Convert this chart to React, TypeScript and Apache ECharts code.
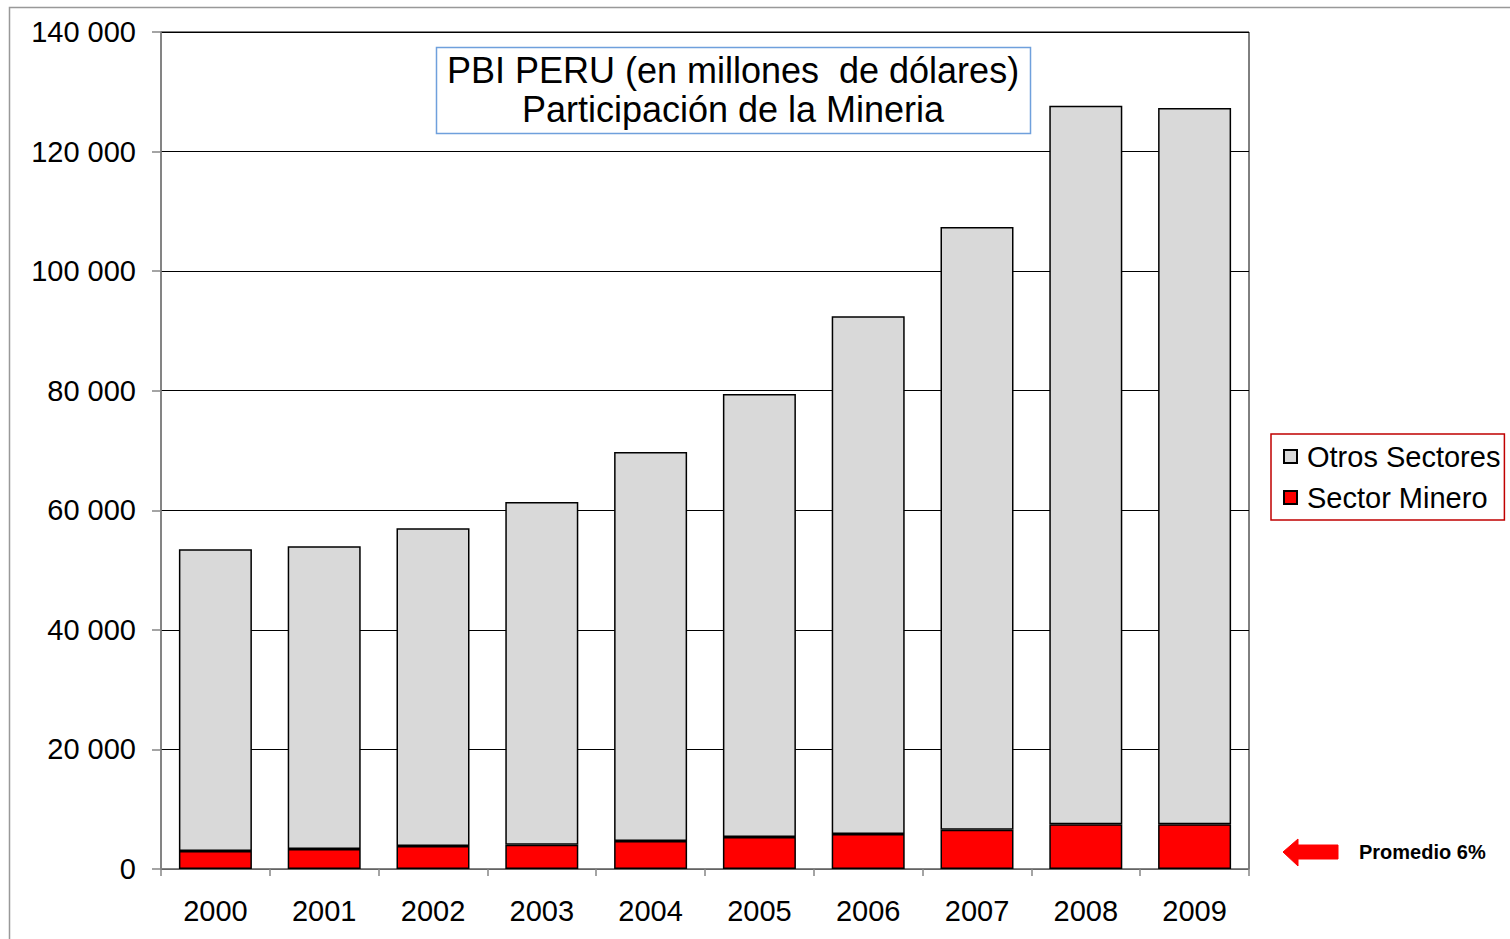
import React, { useEffect, useRef } from "react";
import * as echarts from "echarts";

const years = ["2000", "2001", "2002", "2003", "2004", "2005", "2006", "2007", "2008", "2009"];
const sectorMinero = [3000, 3350, 3850, 4050, 4700, 5350, 5850, 6550, 7500, 7500];
const otrosSectores = [50500, 50650, 53150, 57350, 65050, 74100, 86600, 100850, 120150, 119800];
const yTicks = { min: 0, max: 140000, interval: 20000 };
const FONT = "'Liberation Sans', Arial, sans-serif";

function fmt(v: number): string {
  return String(v).replace(/\B(?=(\d{3})+(?!\d))/g, " ");
}

export default function App() {
  const ref = useRef<HTMLDivElement>(null);
  useEffect(() => {
    document.body.style.margin = "0";
    if (!ref.current) return;
    const chart = echarts.init(ref.current, null, { renderer: "svg" });
    chart.setOption({
      animation: false,
      backgroundColor: "#ffffff",
      textStyle: { fontFamily: FONT },
      grid: {
        left: 161,
        right: 261,
        top: 32,
        bottom: 70,
        show: true,
        borderColor: "#000",
        borderWidth: 1,
      },
      legend: {
        data: ["Otros Sectores", "Sector Minero"],
        orient: "vertical",
        left: 1271,
        top: 434,
        padding: [8, 4, 8, 12],
        itemGap: 12,
        itemWidth: 13,
        itemHeight: 13,
        borderColor: "#c00000",
        borderWidth: 1.5,
        icon: "rect",
        textStyle: { fontSize: 29, color: "#000", fontFamily: FONT, padding: [0, 0, 0, 5] },
      },
      xAxis: {
        type: "category",
        data: years,
        axisLine: { lineStyle: { color: "#868686", width: 1.5 } },
        axisTick: { show: true, length: 7, lineStyle: { color: "#868686", width: 1.5 } },
        axisLabel: { fontSize: 29, color: "#000", margin: 27, fontFamily: FONT },
      },
      yAxis: {
        type: "value",
        min: yTicks.min,
        max: yTicks.max,
        interval: yTicks.interval,
        axisLine: { show: true, lineStyle: { color: "#868686", width: 1.5 } },
        axisTick: { show: true, length: 9, lineStyle: { color: "#868686", width: 1.5 } },
        axisLabel: { fontSize: 29, color: "#000", margin: 25, formatter: (v: number) => fmt(v), fontFamily: FONT },
        splitLine: { show: true, lineStyle: { color: "#000", width: 1 } },
      },
      series: [
        {
          name: "Sector Minero",
          type: "bar",
          stack: "pbi",
          barWidth: 73,
          data: sectorMinero,
          itemStyle: { color: "#ff0000", borderColor: "#000", borderWidth: 1.5 },
        },
        {
          name: "Otros Sectores",
          type: "bar",
          stack: "pbi",
          barWidth: 73,
          data: otrosSectores,
          itemStyle: { color: "#d9d9d9", borderColor: "#000", borderWidth: 1.5 },
        },
      ],
      graphic: [
        {
          type: "rect",
          shape: { x: 9.5, y: 7.5, width: 1520, height: 960 },
          style: { fill: "none", stroke: "#999", lineWidth: 1.5 },
          silent: true,
        },
        {
          type: "rect",
          shape: { x: 436.5, y: 47.5, width: 594, height: 86 },
          style: { fill: "#fff", stroke: "#6fa0dc", lineWidth: 1.5 },
          z: 10,
        },
        {
          type: "text",
          x: 733,
          y: 90,
          z: 11,
          style: {
            text: "PBI PERU (en millones  de dólares)\nParticipación de la Mineria",
            fontSize: 36,
            lineHeight: 39,
            fontFamily: FONT,
            fill: "#000",
            align: "center",
            verticalAlign: "middle",
          },
        },
        {
          type: "polygon",
          shape: {
            points: [
              [1283, 852],
              [1298, 839],
              [1298, 845],
              [1338, 845],
              [1338, 859],
              [1298, 859],
              [1298, 866],
            ],
          },
          style: { fill: "#ff0000", stroke: "#ff0000", lineWidth: 1, lineJoin: "round" },
        },
        {
          type: "text",
          x: 1359,
          y: 852,
          style: {
            text: "Promedio 6%",
            fontSize: 20,
            fontWeight: "bold",
            fontFamily: FONT,
            fill: "#000",
            align: "left",
            verticalAlign: "middle",
          },
        },
      ],
    });
    return () => chart.dispose();
  }, []);
  return <div ref={ref} style={{ width: 1510, height: 939 }} />;
}
